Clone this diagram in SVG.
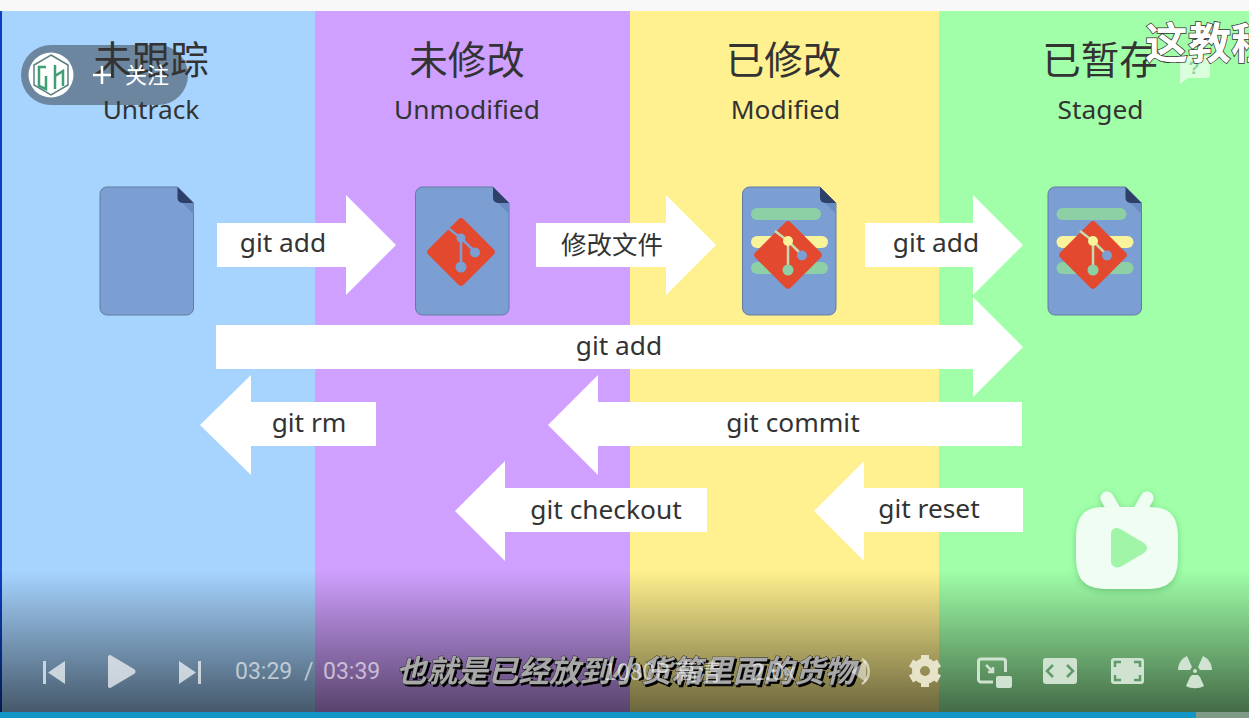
<svg xmlns="http://www.w3.org/2000/svg" width="1249" height="718" viewBox="0 0 1249 718">
<style>
.cn{font-family:"Noto Sans CJK SC","Noto Sans",sans-serif}
.h{font-size:38.5px;fill:#333;text-anchor:middle}
.en{font-family:"Noto Sans","Liberation Sans",sans-serif;font-size:26.3px;fill:#333;text-anchor:middle}
.arrow{fill:#fff}
.ctl{fill:#fff;fill-opacity:.68}
.time{font-family:"Roboto",sans-serif;font-size:23px;fill:#fff;fill-opacity:.6}
.ghost{font-family:"Noto Sans CJK SC",sans-serif;font-size:23px;fill:#fff;fill-opacity:.6}
.sub{font-family:"Noto Sans CJK SC",sans-serif;font-size:30.6px;font-weight:700;font-style:italic;fill:#a8a8a8;stroke:#222;stroke-width:.8;paint-order:stroke}
.icon{fill:#cfe3d0}
.line{fill:none;stroke:#cfe3d0;stroke-width:3}
.cut{fill:none;stroke:#5f9b6a;stroke-width:2.500}
</style>
<defs>
<linearGradient id="shade" x1="0" y1="0" x2="0" y2="1"><stop offset="0" stop-color="#000" stop-opacity="0"/><stop offset="1" stop-color="#000" stop-opacity=".58"/></linearGradient>
<filter id="drop" x="-5%" y="-20%" width="110%" height="140%"><feDropShadow dx="2" dy="2" stdDeviation=".7" flood-color="#000"/></filter>
<filter id="soft" x="-20%" y="-20%" width="140%" height="140%"><feDropShadow dx="0" dy="2" stdDeviation="3" flood-color="#2c7a3a" flood-opacity=".35"/></filter>
<g id="doc">
<path d="M7 0H77.500L93.500 16V121a7 7 0 0 1-7 7H7a7 7 0 0 1-7-7V7a7 7 0 0 1 7-7Z" fill="#7b9ed3" stroke="#667aa0" stroke-width="1"/>
<path d="M82.500 16H93.500V27Z" fill="#6a8cc2"/>
<path d="M77.500 0L93.500 16H82.500a5 5 0 0 1-5-5Z" fill="#2f4068"/>
</g>
<g id="bars">
<rect x="9" y="21" width="70" height="12" rx="6" fill="#8ed0a6"/>
<rect x="9" y="49" width="77" height="12" rx="6" fill="#f9f39c"/>
<rect x="9" y="75" width="77" height="12" rx="6" fill="#8ed0a6"/>
</g>
<g id="logo">
<rect x="-25" y="-25" width="50" height="50" rx="4" transform="rotate(45)" fill="#e2492f"/>
<path d="M-13-24L0-14V15M0-14L14 0" fill="none" stroke="#7b9ed3" stroke-width="2.500"/>
<circle cx="0" cy="-14" r="4.500" fill="#7b9ed3"/><circle cx="14" cy="0.500" r="5" fill="#7b9ed3"/><circle cx="0" cy="15" r="5.500" fill="#7b9ed3"/>
</g>
<g id="logo2">
<rect x="-25" y="-25" width="50" height="50" rx="4" transform="rotate(45)" fill="#e2492f"/>
<path d="M-13-24L0-14V15M0-14L14 0" fill="none" stroke="#c6dcae" stroke-width="2.500"/>
<circle cx="0" cy="-14" r="5" fill="#f9f39c"/><circle cx="14" cy="0.500" r="5" fill="#7b9ed3"/><circle cx="0" cy="15" r="5.500" fill="#8ed0a6"/>
</g>
</defs>

<g id="background">
<rect width="1249" height="718" fill="#fff"/>
<rect width="1249" height="11" fill="#f8f8f8"/>
<rect y="11" width="315" height="701" fill="#a6d4ff"/>
<rect x="315" y="11" width="315" height="701" fill="#cfa0ff"/>
<rect x="630" y="11" width="309" height="701" fill="#fff18f"/>
<rect x="939" y="11" width="310" height="701" fill="#a0ffa8"/>
<rect y="11" width="2" height="701" fill="#0b3fc0"/>
</g>

<g id="follow-pill">
<rect x="21" y="45" width="167" height="60" rx="30" fill="#6c869f"/>
<circle cx="51" cy="75" r="22.500" fill="#fff"/>
<path d="M51 55L68 65V85L51 95L34 85V65Z" fill="none" stroke="#5d7f80" stroke-width="1.500"/>
<path d="M46 67H39V86L46 89V76M55 65V89M55 76L63 71V86" fill="none" stroke="#3f9e72" stroke-width="2.500"/>
</g>

<g id="col-untrack"><text class="cn h" x="151" y="74">未跟踪</text><text class="en" x="151" y="119">Untrack</text></g>
<g id="col-unmodified"><text class="cn h" x="467" y="74">未修改</text><text class="en" x="467" y="119">Unmodified</text></g>
<g id="col-modified"><text class="cn h" x="783.500" y="74">已修改</text><text class="en" x="785.500" y="119">Modified</text></g>
<g id="col-staged"><text class="cn h" x="1100" y="74">已暂存</text><text class="en" x="1100.500" y="119">Staged</text></g>

<g id="follow-label">
<path d="M93 75H111M102 66V84" stroke="#fff" stroke-width="2.500"/>
<text class="cn" x="147" y="83" font-size="22" fill="#fff" text-anchor="middle">关注</text>
</g>

<g id="file-untrack"><use href="#doc" x="100" y="187"/></g>
<g id="file-unmodified"><use href="#doc" x="415.500" y="187"/><use href="#logo" x="461" y="252"/></g>
<g id="file-modified"><use href="#doc" x="742.500" y="187"/><use href="#bars" x="742" y="187"/><use href="#logo2" x="788" y="255"/></g>
<g id="file-staged"><use href="#doc" x="1048" y="187"/><use href="#bars" x="1047.500" y="187"/><use href="#logo2" x="1093" y="255"/></g>

<g id="connectors">
<polygon class="arrow" points="217,223 346,223 346,195 396,245 346,295 346,267 217,267"/>
<polygon class="arrow" points="536,223 666,223 666,195 716,245 666,295 666,267 536,267"/>
<polygon class="arrow" points="865,223 973,223 973,195 1023,245 973,295 973,267 865,267"/>
<polygon class="arrow" points="216,325 973,325 973,297 1023,347 973,397 973,369 216,369"/>
<polygon class="arrow" points="376,402 251,402 251,375 200,425 251,475 251,446 376,446"/>
<polygon class="arrow" points="1022,402 598,402 598,375 548,425 598,475 598,446 1022,446"/>
<polygon class="arrow" points="707,488 505,488 505,461 455,511 505,561 505,532 707,532"/>
<polygon class="arrow" points="1023,488 864,488 864,461 814,511 864,561 864,532 1023,532"/>
</g>
<g id="connector-labels">
<text class="en" x="283" y="252">git add</text>
<text class="cn" x="612" y="254" font-size="25.500" fill="#333" text-anchor="middle">修改文件</text>
<text class="en" x="936" y="252">git add</text>
<text class="en" x="619" y="355">git add</text>
<text class="en" x="309" y="432">git rm</text>
<text class="en" x="793" y="432">git commit</text>
<text class="en" x="606" y="519">git checkout</text>
<text class="en" x="929" y="518">git reset</text>
</g>

<g id="overlay">
<rect y="570" width="1249" height="142" fill="url(#shade)"/>
<rect y="712" width="1196" height="6" fill="#1296c8"/>
<rect x="1196" y="712" width="53" height="6" fill="#7f9a86"/>
</g>

<g id="danmaku">
<path d="M1183 56H1207a3 3 0 0 1 3 3V75a3 3 0 0 1-3 3H1188L1180 84V59a3 3 0 0 1 3-3Z" fill="#fff" fill-opacity=".6"/>
<text x="1194" y="74" font-family="Liberation Sans,sans-serif" font-size="18" font-weight="700" fill="#8dd496" text-anchor="middle">?</text>
<text class="cn" x="1145" y="59" font-size="43" font-weight="700" fill="#fff" stroke="#333" stroke-width="1.500" paint-order="stroke">这教程</text>
</g>

<g id="tv-logo" filter="url(#soft)">
<path d="M1107 498L1118 517M1147 498L1136 517" stroke="#effcf2" stroke-width="13" stroke-linecap="round"/>
<path d="M1106 507H1148C1170 507 1178 515 1178 540V555C1178 580 1170 588 1148 589H1106C1084 588 1076 580 1076 555V540C1076 515 1084 507 1106 507Z" fill="#f0fdf3"/>
<path d="M1111 534C1111 528 1117 526 1122 530L1144 543C1148 546 1148 550 1144 553L1122 566C1117 569 1111 567 1111 561Z" fill="#a0f5a8"/>
</g>

<g id="player">
<path class="ctl" d="M43 661H46V684H43ZM48 672.500L65 661V684Z"/>
<path class="ctl" d="M108 657C108 655 110 654 112 656L134 669C136 670 136 673 134 674L112 687C110 689 108 688 108 686Z"/>
<path class="ctl" d="M179 661L196 672.500L179 684ZM198 661H201V684H198Z"/>
<text class="time" x="235" y="679">03:29</text>
<text class="time" x="304" y="679">/</text>
<text class="time" x="323" y="679">03:39</text>
<text class="sub" x="396" y="682" filter="url(#drop)">也就是已经放到小货箱里面的货物</text>
<text class="ghost" x="604" y="680">1080P 高清</text>
<text class="ghost" x="752" y="680">2.0x</text>
<path d="M851 672L866 660V682Z" fill="#fff" fill-opacity=".5"/>
<path d="M862 659a15 15 0 0 1 0 25" fill="none" stroke="#fff" stroke-opacity=".6" stroke-width="2.500"/>
<circle cx="925" cy="671" r="9" fill="none" stroke="#e6e3c8" stroke-width="8"/>
<path d="M925 655V661M925 681V687M911 663L916 666M939 663L934 666M911 679L916 676M939 679L934 676" stroke="#e6e3c8" stroke-width="8"/>
<path class="line" d="M993 682H981a2.500 2.500 0 0 1-2.500-2.500V661.500a2.500 2.500 0 0 1 2.500-2.500H1003a2.500 2.500 0 0 1 2.500 2.500V672"/>
<path d="M986 665L993 672M988 672H993V667" fill="none" stroke="#cfe3d0" stroke-width="2.500"/>
<rect class="icon" x="996" y="676" width="16" height="12" rx="2"/>
<rect class="icon" x="1043" y="658" width="34" height="26" rx="3"/>
<path class="cut" d="M1053 665L1047 671L1053 677M1067 665L1073 671L1067 677"/>
<rect class="icon" x="1111" y="658" width="33" height="26" rx="3"/>
<path class="cut" d="M1115 667V662H1121M1134 662H1140V667M1140 675V680H1134M1121 680H1115V675"/>
<path class="icon" d="M1178 670C1178 664 1181 659 1187 656L1192 667L1190 670Z"/>
<path class="icon" d="M1212 670C1212 664 1209 659 1203 656L1198 667L1200 670Z"/>
<path class="icon" d="M1190 677L1192 675H1198L1200 677L1204 686C1199 689 1191 689 1186 686Z"/>
<circle class="icon" cx="1195" cy="671" r="2"/>
</g>
</svg>
